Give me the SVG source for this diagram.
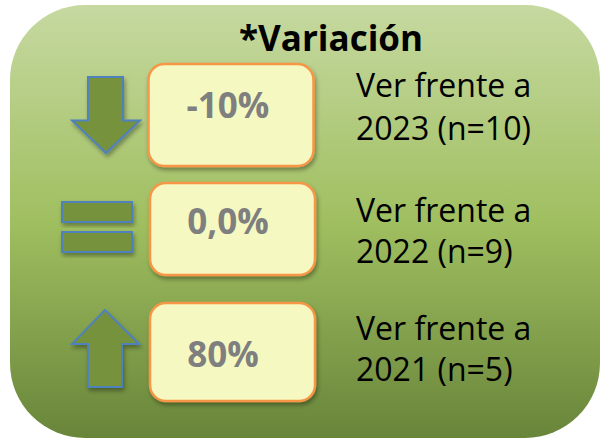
<svg xmlns="http://www.w3.org/2000/svg" width="604" height="441" viewBox="0 0 604 441">
  <defs>
    <linearGradient id="bg" x1="0" y1="0" x2="0" y2="1">
      <stop offset="0" stop-color="#c6d9a1"/>
      <stop offset="0.5" stop-color="#a0bf60"/>
      <stop offset="1" stop-color="#68853a"/>
    </linearGradient>
    <filter id="sh" x="-20%" y="-20%" width="140%" height="150%">
      <feDropShadow dx="1.5" dy="3" stdDeviation="2" flood-color="#000" flood-opacity="0.35"/>
    </filter>
  </defs>
  <style>
    .box { fill: #f5f9c1; stroke: #f79646; stroke-width: 2.5; filter: url(#sh); }
    .icon { fill: #76923c; stroke: #4f81bd; stroke-width: 2; filter: url(#sh); }
    .val { font-family: "Open Sans", "Liberation Sans", sans-serif; font-weight: bold; font-size: 35px; fill: #7f7f7f; text-anchor: middle; }
    .lbl { font-family: "Open Sans", "Liberation Sans", sans-serif; font-size: 32px; fill: #000; }
    .title { font-family: "Open Sans", "Liberation Sans", sans-serif; font-weight: bold; font-size: 35px; fill: #000; text-anchor: middle; }
  </style>
  <rect id="background" x="10" y="5" width="590" height="433" rx="75" ry="75" fill="url(#bg)"/>
  <text id="title" class="title" x="331" y="51">*Variación</text>
  <g id="row1">
    <path class="icon" d="M88,77 H123 V120.5 H140 L106,153 L72,120.5 H88 Z"/>
    <rect class="box" x="148.5" y="64" width="165" height="102" rx="16" ry="16"/>
    <text class="val" x="228" y="118">-10%</text>
    <text class="lbl" x="356" y="97">Ver frente a</text>
    <text class="lbl" x="356" y="140">2023 (n=10)</text>
  </g>
  <g id="row2">
    <rect class="icon" x="62" y="202" width="70" height="20"/>
    <rect class="icon" x="62" y="232" width="70" height="20"/>
    <rect class="box" x="150" y="183" width="165" height="92" rx="16" ry="16"/>
    <text class="val" x="228" y="234">0,0%</text>
    <text class="lbl" x="356" y="222">Ver frente a</text>
    <text class="lbl" x="356" y="263">2022 (n=9)</text>
  </g>
  <g id="row3">
    <path class="icon" d="M105,310 L139,344 H122 V387 H88 V344 H72 Z"/>
    <rect class="box" x="150" y="303" width="165" height="98" rx="16" ry="16"/>
    <text class="val" x="223" y="367">80%</text>
    <text class="lbl" x="356" y="340">Ver frente a</text>
    <text class="lbl" x="356" y="381">2021 (n=5)</text>
  </g>
  <g id="connectors"/>
</svg>
